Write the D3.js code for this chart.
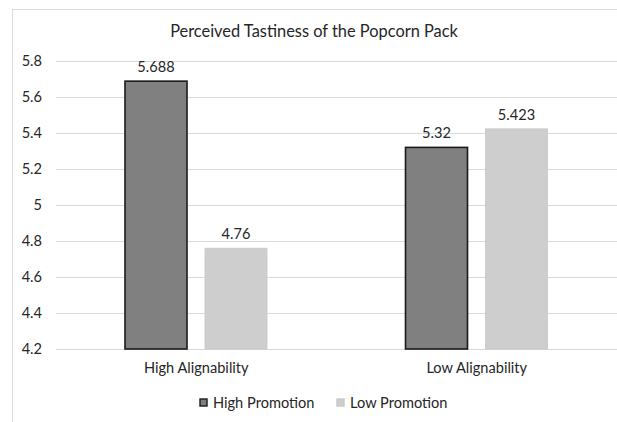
<!DOCTYPE html>
<html><head><meta charset="utf-8">
<script src="https://cdn.jsdelivr.net/npm/d3@7"></script>
<style>body{margin:0;background:#fff}svg{display:block}</style>
</head><body>
<script>
const categories = ["High Alignability", "Low Alignability"];
const series = ["High Promotion", "Low Promotion"];
const highPromotion = [5.688, 5.32];
const lowPromotion = [4.76, 5.423];
const valueLabels = [["5.688", "4.76"], ["5.32", "5.423"]];
const yTicks = [4.2, 4.4, 4.6, 4.8, 5, 5.2, 5.4, 5.6, 5.8];
const title = "Perceived Tastiness of the Popcorn Pack";

const W = 617, H = 422;
const font = "Lato, 'Open Sans', sans-serif";
const txt = "#262626";
const fs = 14.6;
const svg = d3.select("body").append("svg").attr("width", W).attr("height", H);

svg.append("rect").attr("x", 12.5).attr("y", 9.5).attr("width", 700).attr("height", 500)
  .attr("fill", "#fff").attr("stroke", "#d9d9d9").attr("stroke-width", 1);

const x0 = d3.scaleBand().domain(categories).range([56, 617]).paddingInner(0).paddingOuter(0);
const y = d3.scaleLinear().domain([4.2, 5.8]).range([349, 61]);
const x1 = d3.scaleBand().domain(series).range([69, 211]).paddingInner(0.225);

// gridlines
svg.append("g").selectAll("line").data(yTicks).join("line")
  .attr("x1", 56).attr("x2", 617)
  .attr("y1", d => Math.round(y(d)) + 0.5).attr("y2", d => Math.round(y(d)) + 0.5)
  .attr("stroke", "#d9d9d9").attr("stroke-width", 1.2);

// y axis labels
const yAxis = d3.axisLeft(y).tickValues(yTicks).tickSize(0).tickPadding(0).tickFormat(d => String(d));
const ya = svg.append("g").attr("transform", "translate(42,0)").call(yAxis);
ya.select(".domain").remove();
ya.selectAll("text").attr("font-family", font).attr("font-size", fs).attr("fill", txt);

const data = categories.map((c, i) => ({cat: c, vals: [highPromotion[i], lowPromotion[i]], labels: valueLabels[i]}));
const fills = ["#808080", "#cecece"];
const strokes = ["#1a1a1a", "#c8c8c8"];

const g = svg.append("g").selectAll("g").data(data).join("g")
  .attr("transform", d => `translate(${x0(d.cat)},0)`);

g.selectAll("rect").data(d => d.vals.map((v, j) => ({s: series[j], v, j}))).join("rect")
  .attr("x", d => x1(d.s)).attr("width", x1.bandwidth())
  .attr("y", d => y(d.v)).attr("height", d => y(4.2) - y(d.v))
  .attr("fill", d => fills[d.j])
  .attr("stroke", d => strokes[d.j]).attr("stroke-width", d => d.j === 0 ? 1.6 : 0.8);

g.selectAll("text.val").data(d => d.vals.map((v, j) => ({s: series[j], v, j, l: d.labels[j]}))).join("text")
  .attr("class", "val")
  .attr("x", d => x1(d.s) + x1.bandwidth() / 2).attr("y", d => y(d.v) - 9)
  .attr("text-anchor", "middle").attr("font-family", font).attr("font-size", fs).attr("fill", txt)
  .text(d => d.l);

// x axis labels
const xAxis = d3.axisBottom(x0).tickSize(0).tickPadding(0);
const xa = svg.append("g").attr("transform", "translate(0,363)").call(xAxis);
xa.select(".domain").remove();
xa.selectAll("text").attr("font-family", font).attr("font-size", fs).attr("fill", txt);

// title
svg.append("text").attr("x", 314).attr("y", 37).attr("text-anchor", "middle")
  .attr("font-family", font).attr("font-size", 16.4).attr("fill", txt).text(title);

// legend
const legX = [200, 337];
const lg = svg.append("g").selectAll("g").data(series).join("g")
  .attr("transform", (d, i) => `translate(${legX[i]},399)`);
lg.append("rect").attr("width", 7).attr("height", 7)
  .attr("fill", (d, i) => fills[i]).attr("stroke", (d, i) => i === 0 ? "#1a1a1a" : "#c8c8c8").attr("stroke-width", 1.4);
lg.append("text").attr("x", 13).attr("y", 8.5).attr("font-family", font).attr("font-size", fs).attr("fill", txt).text(d => d);
</script>
</body></html>
